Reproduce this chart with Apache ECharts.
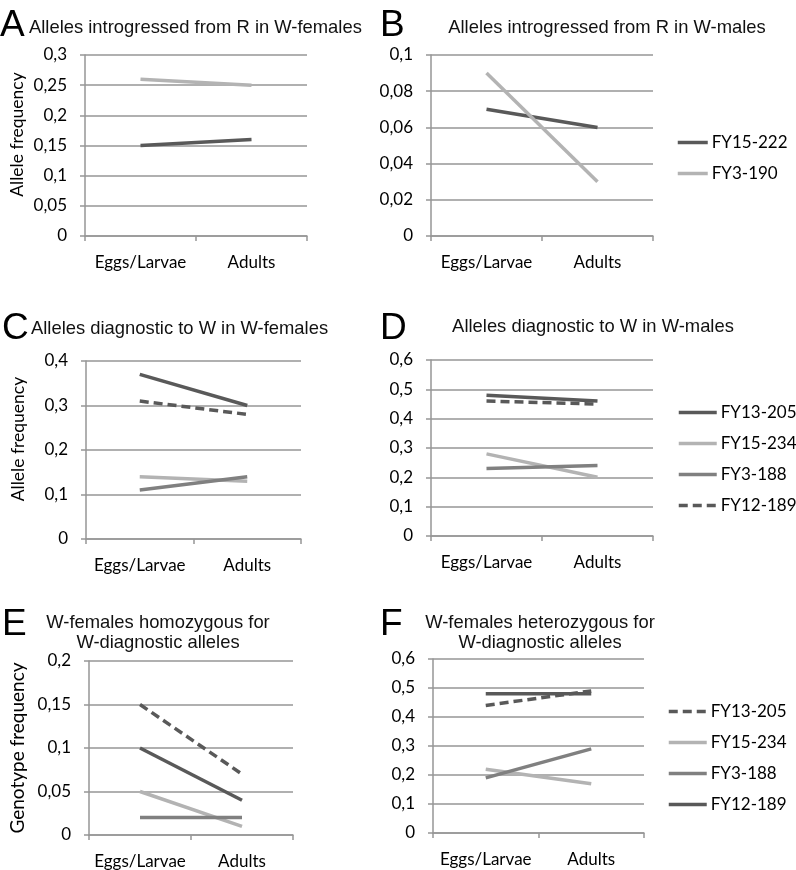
<!DOCTYPE html>
<html>
<head>
<meta charset="utf-8">
<script src="https://cdn.jsdelivr.net/npm/echarts@6/dist/echarts.min.js"></script>
<style>
  html, body { margin: 0; padding: 0; background: #fff; }
  #chart { width: 796px; height: 870px; }
</style>
</head>
<body>
<div id="chart"></div>
<script>
// categories
const categories = ['Eggs/Larvae', 'Adults'];

// A - alleles introgressed from R in W-females
const a_FY15_222 = [0.15, 0.16];
const a_FY3_190 = [0.26, 0.25];
// B - alleles introgressed from R in W-males
const b_FY15_222 = [0.07, 0.06];
const b_FY3_190 = [0.09, 0.03];
// C - alleles diagnostic to W in W-females
const c_FY13_205 = [0.37, 0.30];
const c_FY15_234 = [0.14, 0.13];
const c_FY3_188 = [0.11, 0.14];
const c_FY12_189 = [0.31, 0.28];
// D - alleles diagnostic to W in W-males
const d_FY13_205 = [0.48, 0.46];
const d_FY15_234 = [0.28, 0.20];
const d_FY3_188 = [0.23, 0.24];
const d_FY12_189 = [0.46, 0.45];
// E - W-females homozygous
const e_FY13_205 = [0.15, 0.07];
const e_FY15_234 = [0.05, 0.01];
const e_FY3_188 = [0.02, 0.02];
const e_FY12_189 = [0.10, 0.04];
// F - W-females heterozygous
const f_FY13_205 = [0.44, 0.49];
const f_FY15_234 = [0.22, 0.17];
const f_FY3_188 = [0.19, 0.29];
const f_FY12_189 = [0.48, 0.48];

// y axis ranges per panel
const yMax = [0.3, 0.1, 0.4, 0.6, 0.2, 0.6];
const yStep = [0.05, 0.02, 0.1, 0.1, 0.05, 0.1];

const DARK = '#595959', LIGHT = '#b3b3b3', MID = '#808080';
const DASH = [9, 5];
const GRID_C = '#969696';
const LABEL_FONT = 'Lato';
const TITLE_FONT = 'Liberation Sans';

let myChart = echarts.init(document.getElementById('chart'));

function line(name, data, idx, color, dashed) {
  return {
    name: name,
    type: 'line',
    xAxisIndex: idx,
    yAxisIndex: idx,
    data: data,
    symbol: 'none',
    silent: true,
    lineStyle: { color: color, width: 3.5, type: dashed ? DASH : 'solid' },
    itemStyle: { color: color }
  };
}

const grids = [
  { left: 85, top: 55, width: 222, height: 181 },
  { left: 431, top: 55, width: 222, height: 181 },
  { left: 86, top: 361, width: 215, height: 178 },
  { left: 431, top: 360, width: 222, height: 176 },
  { left: 89, top: 661, width: 204, height: 174 },
  { left: 433, top: 659, width: 211, height: 174 }
];

const yNames = ['Allele frequency', '', 'Allele frequency', '', 'Genotype frequency', ''];

const xAxes = grids.map((g, i) => ({
  type: 'category',
  gridIndex: i,
  data: categories,
  boundaryGap: true,
  axisLine: { lineStyle: { color: GRID_C, width: 1.5 } },
  axisTick: { show: true, length: 5, lineStyle: { color: GRID_C, width: 1.5 } },
  axisLabel: { color: '#000', fontSize: 17, fontFamily: LABEL_FONT, margin: 18, interval: 0 }
}));

const yAxes = grids.map((g, i) => ({
  type: 'value',
  gridIndex: i,
  min: 0,
  max: yMax[i],
  interval: yStep[i],
  name: yNames[i],
  nameLocation: 'middle',
  nameGap: i === 4 ? 62 : 59,
  nameTextStyle: {
    color: '#000', fontSize: i === 4 ? 19 : 17.5, fontFamily: LABEL_FONT,
    padding: i === 4 ? 0 : [0, 0, 0, 22]
  },
  axisLine: { show: true, lineStyle: { color: GRID_C, width: 1.5 } },
  axisTick: { show: true, length: 5, lineStyle: { color: GRID_C, width: 1.5 } },
  splitLine: { show: true, lineStyle: { color: GRID_C, width: 1.5 } },
  axisLabel: {
    color: '#000', fontSize: 17, fontFamily: LABEL_FONT, margin: 18,
    formatter: v => String(+v.toFixed(4)).replace('.', ',')
  }
}));

const titleStyle = { color: '#111', fontSize: 18.4, fontWeight: 'normal', fontFamily: TITLE_FONT, lineHeight: 20 };
const letterStyle = { color: '#000', fontSize: 37, fontWeight: 'normal', fontFamily: TITLE_FONT };

const titles = [
  { text: 'A', left: 0, top: 7, padding: 0, textStyle: letterStyle },
  { text: 'B', left: 380, top: 7, padding: 0, textStyle: letterStyle },
  { text: 'C', left: 2, top: 310, padding: 0, textStyle: letterStyle },
  { text: 'D', left: 380, top: 310, padding: 0, textStyle: letterStyle },
  { text: 'E', left: 2, top: 606, padding: 0, textStyle: letterStyle },
  { text: 'F', left: 380, top: 606, padding: 0, textStyle: letterStyle },
  { text: 'Alleles introgressed from R in W-females', left: 29, top: 18, padding: 0, textStyle: titleStyle },
  { text: 'Alleles introgressed from R in W-males', left: 607, textAlign: 'center', top: 18, padding: 0, textStyle: titleStyle },
  { text: 'Alleles diagnostic to W in W-females', left: 31, top: 319, padding: 0, textStyle: titleStyle },
  { text: 'Alleles diagnostic to W in W-males', left: 593, textAlign: 'center', top: 317, padding: 0, textStyle: titleStyle },
  { text: 'W-females homozygous for\nW-diagnostic alleles', left: 158, textAlign: 'center', top: 613, padding: 0, textStyle: titleStyle },
  { text: 'W-females heterozygous for\nW-diagnostic alleles', left: 540, textAlign: 'center', top: 613, padding: 0, textStyle: titleStyle }
];

function legItem(name, color, dashed) {
  return {
    name: name,
    itemStyle: { color: color, opacity: 0 },
    lineStyle: { color: color, width: 3.5, type: dashed ? DASH : 'solid' }
  };
}

const legendBase = {
  orient: 'vertical',
  selectedMode: false,
  itemGap: 14,
  itemHeight: 14,
  padding: 0,
  textStyle: { color: '#000', fontSize: 17, fontFamily: LABEL_FONT, padding: [0, 0, 0, -1] }
};

const legends = [
  Object.assign({}, legendBase, {
    left: 676, top: 134, itemWidth: 30,
    data: [legItem('FY15-222', DARK), legItem('FY3-190', LIGHT)]
  }),
  Object.assign({}, legendBase, {
    left: 677, top: 404, itemWidth: 38,
    data: [legItem('FY13-205', DARK), legItem('FY15-234', LIGHT), legItem('FY3-188', MID), legItem('FY12-189', DARK, true)]
  }),
  Object.assign({}, legendBase, {
    left: 667, top: 703, itemWidth: 38,
    data: [legItem('FY13-205', DARK, true), legItem('FY15-234', LIGHT), legItem('FY3-188', MID), legItem('FY12-189', DARK)]
  })
];

const series = [
  line('FY3-190', a_FY3_190, 0, LIGHT),
  line('FY15-222', a_FY15_222, 0, DARK),
  line('FY15-222', b_FY15_222, 1, DARK),
  line('FY3-190', b_FY3_190, 1, LIGHT),
  line('FY15-234', c_FY15_234, 2, LIGHT),
  line('FY3-188', c_FY3_188, 2, MID),
  line('FY13-205', c_FY13_205, 2, DARK),
  line('FY12-189', c_FY12_189, 2, DARK, true),
  line('FY15-234', d_FY15_234, 3, LIGHT),
  line('FY3-188', d_FY3_188, 3, MID),
  line('FY13-205', d_FY13_205, 3, DARK),
  line('FY12-189', d_FY12_189, 3, DARK, true),
  line('FY15-234', e_FY15_234, 4, LIGHT),
  line('FY3-188', e_FY3_188, 4, MID),
  line('FY12-189', e_FY12_189, 4, DARK),
  line('FY13-205', e_FY13_205, 4, DARK, true),
  line('FY15-234', f_FY15_234, 5, LIGHT),
  line('FY3-188', f_FY3_188, 5, MID),
  line('FY13-205', f_FY13_205, 5, DARK, true),
  line('FY12-189', f_FY12_189, 5, DARK)
];

myChart.setOption({
  animation: false,
  backgroundColor: '#fff',
  title: titles,
  legend: legends,
  grid: grids,
  xAxis: xAxes,
  yAxis: yAxes,
  series: series
});
</script>
</body>
</html>
